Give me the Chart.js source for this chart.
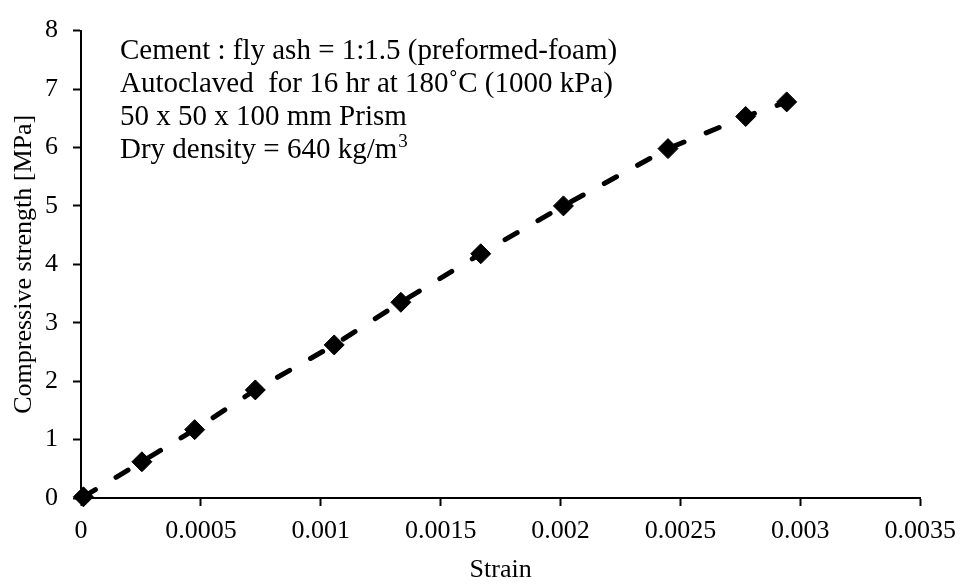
<!DOCTYPE html>
<html>
<head>
<meta charset="utf-8">
<script src="https://cdn.jsdelivr.net/npm/chart.js@4/dist/chart.umd.min.js"></script>
<style>
  html, body { margin: 0; padding: 0; background: #ffffff; }
  #wrap { width: 966px; height: 586px; }
</style>
</head>
<body>
<div id="wrap"><canvas id="c" width="966" height="586"></canvas></div>
<script>
// ---- data ----
const strain = [0.00001, 0.000254, 0.000474, 0.000727, 0.001056, 0.001334, 0.001667, 0.002012, 0.002448, 0.002772, 0.002943];
const stress = [0.02, 0.62, 1.17, 1.85, 2.62, 3.35, 4.18, 5.00, 5.98, 6.53, 6.78];
const xTickValues = [0, 0.0005, 0.001, 0.0015, 0.002, 0.0025, 0.003, 0.0035];
const xTickLabels = ["0", "0.0005", "0.001", "0.0015", "0.002", "0.0025", "0.003", "0.0035"];
const yTickValues = [0, 1, 2, 3, 4, 5, 6, 7, 8];
const yTickLabels = ["0", "1", "2", "3", "4", "5", "6", "7", "8"];
const xTitle = "Strain";
const yTitle = "Compressive strength [MPa]";
const noteLines = [
  "Cement : fly ash = 1:1.5 (preformed-foam)",
  "Autoclaved  for 16 hr at 180˚C (1000 kPa)",
  "50 x 50 x 100 mm Prism",
  "Dry density = 640 kg/m"
];
const noteSup = "3";

const FONT = "'Liberation Serif', 'Times New Roman', serif";

const points = strain.map((x, i) => ({ x: x, y: stress[i] }));

const notePlugin = {
  id: 'note',
  afterDraw(chart) {
    const ctx = chart.ctx;
    const a = chart.chartArea;
    ctx.save();
    ctx.fillStyle = '#000';
    ctx.textAlign = 'left';
    ctx.textBaseline = 'alphabetic';
    ctx.font = '29px ' + FONT;
    const x0 = a.left + 39;
    const base0 = a.top + 28;
    const step = 33;
    noteLines.forEach((t, i) => {
      ctx.fillText(t, x0, base0 + i * step);
    });
    const last = noteLines[noteLines.length - 1];
    const w = ctx.measureText(last).width;
    ctx.font = '19px ' + FONT;
    ctx.fillText(noteSup, x0 + w + 1, base0 + (noteLines.length - 1) * step - 11);
    ctx.restore();
  }
};

new Chart(document.getElementById('c'), {
  type: 'scatter',
  data: {
    datasets: [{
      data: points,
      showLine: true,
      borderColor: '#000',
      borderWidth: 5,
      borderDash: [14, 24],
      borderCapStyle: 'round',
      backgroundColor: '#000',
      pointStyle: 'rectRot',
      pointRadius: 10,
      pointHoverRadius: 10,
      pointBorderWidth: 1,
      pointBackgroundColor: '#000',
      pointBorderColor: '#000',
      clip: false
    }]
  },
  options: {
    responsive: false,
    animation: false,
    events: [],
    layout: { padding: { top: 18, right: 43, left: 0, bottom: 0 } },
    plugins: {
      legend: { display: false },
      tooltip: { enabled: false }
    },
    scales: {
      x: {
        type: 'linear',
        min: 0,
        max: 0.0035,
        afterBuildTicks: s => { s.ticks = xTickValues.map(v => ({ value: v })); },
        afterFit: s => { s.height = 88; },
        ticks: {
          callback: (v, i) => xTickLabels[i],
          color: '#000',
          font: { family: FONT, size: 26 },
          padding: 10,
          maxRotation: 0,
          autoSkip: false
        },
        grid: {
          drawOnChartArea: false,
          drawTicks: true,
          tickLength: 8,
          tickWidth: 2,
          tickColor: '#000'
        },
        border: { display: true, color: '#000', width: 2 },
        title: {
          display: true,
          text: xTitle,
          color: '#000',
          font: { family: FONT, size: 26 },
          padding: { top: 4, bottom: 0 }
        }
      },
      y: {
        type: 'linear',
        min: 0,
        max: 8,
        afterBuildTicks: s => { s.ticks = yTickValues.map(v => ({ value: v })); },
        afterFit: s => { s.width = 81; },
        ticks: {
          callback: (v, i) => yTickLabels[i],
          color: '#000',
          font: { family: FONT, size: 26 },
          padding: 15,
          autoSkip: false
        },
        grid: {
          drawOnChartArea: false,
          drawTicks: true,
          tickLength: 8,
          tickWidth: 2,
          tickColor: '#000'
        },
        border: { display: true, color: '#000', width: 2 },
        title: {
          display: true,
          text: yTitle,
          color: '#000',
          font: { family: FONT, size: 26 },
          padding: { top: 9, bottom: 0 }
        }
      }
    }
  },
  plugins: [notePlugin]
});
</script>
</body>
</html>
